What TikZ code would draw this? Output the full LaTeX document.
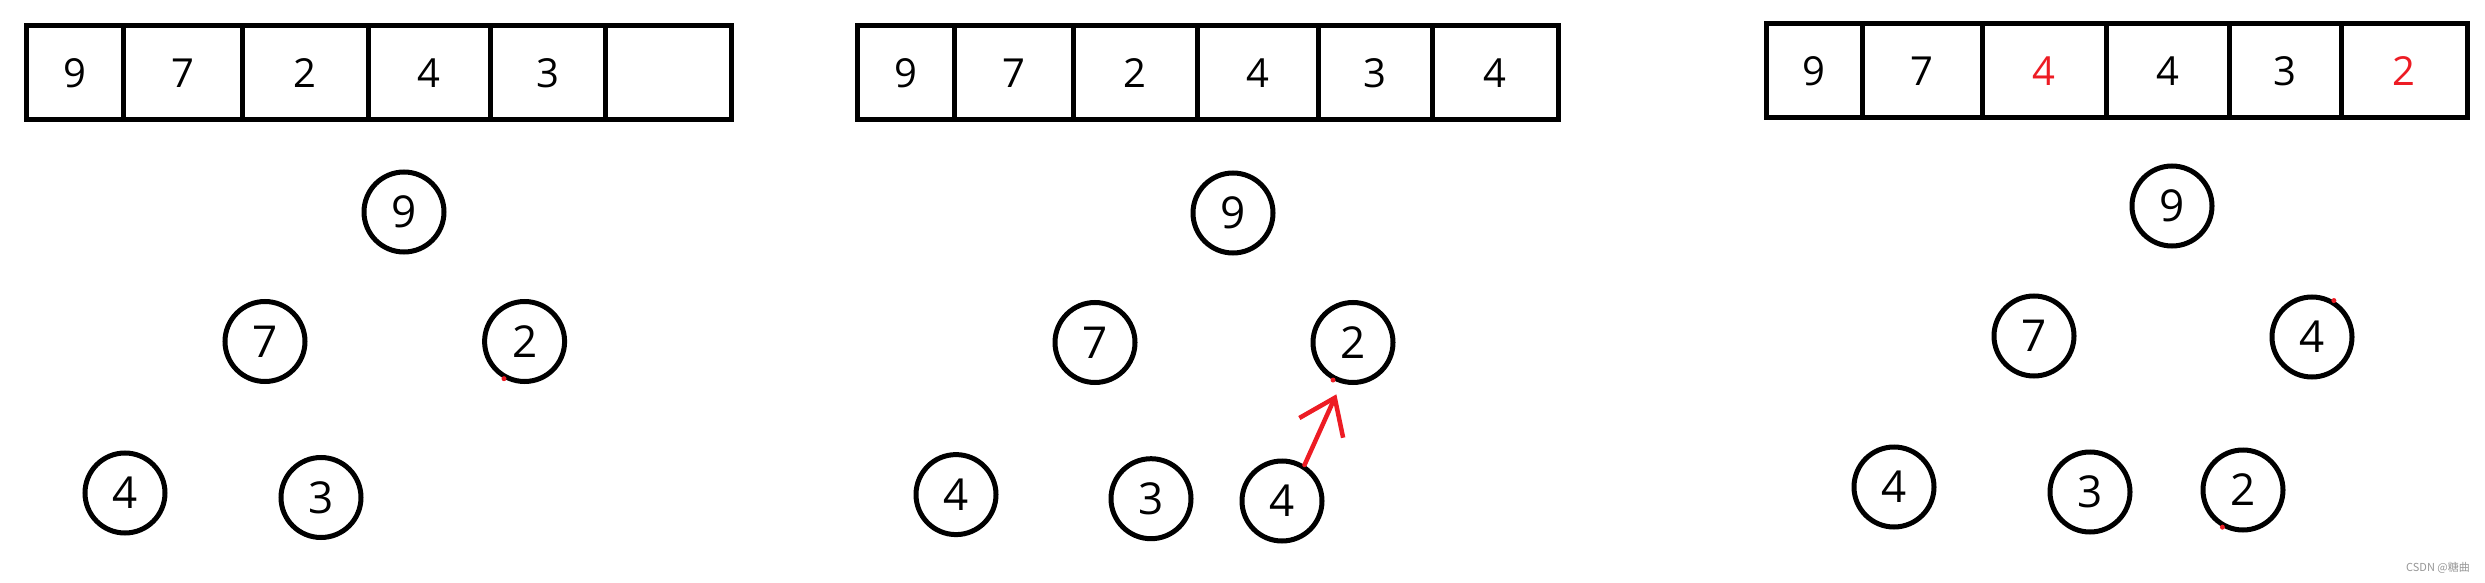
\documentclass[tikz,border=0pt]{standalone}
\usepackage{fontspec}
\setmainfont{Open Sans}
\newfontfamily\cjk{Noto Sans CJK SC}
\usetikzlibrary{arrows.meta}
\definecolor{pred}{RGB}{237,28,36}
\definecolor{wm}{RGB}{150,150,150}
\tikzset{
  cell/.style={draw, line width=5pt, rectangle, inner sep=0pt, minimum height=94pt,
    font=\fontsize{40}{40}\selectfont},
  hnode/.style={draw, line width=5pt, circle, inner sep=0pt, minimum size=80pt,
    font=\fontsize{44}{44}\selectfont},
  hl/.style={text=pred},
  swaparrow/.style={draw=pred, line width=4.5pt, line cap=round,
    -{Straight Barb[length=33pt,width=48pt,line width=4.5pt]}, shorten >=12pt},
  speck/.style={fill=pred},
}
\begin{document}
\begin{tikzpicture}[x=1pt,y=-1pt]
\useasboundingbox (0,0) rectangle (2485,583);
% ---------- panel 1 ----------
\node[cell, minimum width=96.3pt]  (a1) at (74.9,73)  {9};
\node[cell, minimum width=119.6pt] (a2) at (182.8,73) {7};
\node[cell, minimum width=125.4pt] (a3) at (305.3,73) {2};
\node[cell, minimum width=122pt]   (a4) at (429,73)   {4};
\node[cell, minimum width=115pt]   (a5) at (547.5,73) {3};
\node[cell, minimum width=126pt]   (a6) at (668,73)   {};
\node[hnode] (p1n9) at (404,212)   {9};
\node[hnode] (p1n7) at (265,341.5) {7};
\node[hnode] (p1n2) at (524.6,341.5) {2};
\node[hnode] (p1n4) at (125,493)   {4};
\node[hnode] (p1n3) at (321,497.5) {3};
\fill[speck] (p1n2.-119) circle (2.5pt);
% ---------- panel 2 ----------
\node[cell, minimum width=97pt]  (b1) at (905.5,73)  {9};
\node[cell, minimum width=119pt] (b2) at (1013.5,73) {7};
\node[cell, minimum width=124pt] (b3) at (1135,73)   {2};
\node[cell, minimum width=121pt] (b4) at (1257.5,73) {4};
\node[cell, minimum width=114pt] (b5) at (1375,73)   {3};
\node[cell, minimum width=126pt] (b6) at (1495,73)   {4};
\node[hnode] (p2n9)  at (1233,213)   {9};
\node[hnode] (p2n7)  at (1095,342.5) {7};
\node[hnode] (p2n2)  at (1353,342.5) {2};
\node[hnode] (p2n4)  at (956,494.6)  {4};
\node[hnode] (p2n3)  at (1151,498.7) {3};
\node[hnode] (p2n4b) at (1282,501)   {4};
\draw[swaparrow] (p2n4b.58) -- (p2n2.-106);
\fill[speck] (p2n2.-118) circle (2.5pt);
% ---------- panel 3 ----------
\node[cell, minimum width=96pt]  (c1) at (1814,71)   {9};
\node[cell, minimum width=120pt] (c2) at (1922,71)   {7};
\node[cell, minimum width=124pt, hl] (c3) at (2044,71) {4};
\node[cell, minimum width=123pt] (c4) at (2167.5,71) {4};
\node[cell, minimum width=112pt] (c5) at (2285,71)   {3};
\node[cell, minimum width=126pt, hl] (c6) at (2404,71) {2};
\node[hnode] (p3n9) at (2172,206) {9};
\node[hnode] (p3n7) at (2034,336) {7};
\node[hnode] (p3n4) at (2312,337) {4};
\node[hnode] (p3n4b) at (1894,487) {4};
\node[hnode] (p3n3) at (2090,492) {3};
\node[hnode] (p3n2) at (2243,490) {2};
\fill[speck] (p3n4.59) circle (2.5pt);
\fill[speck] (p3n2.-119) circle (2.5pt);
% ---------- watermark ----------
\node[anchor=east, text=wm, inner sep=0pt, font=\cjk\fontsize{11}{11}\selectfont] (wmark) at (2470,568) {CSDN @糖曲};
\end{tikzpicture}
\end{document}
